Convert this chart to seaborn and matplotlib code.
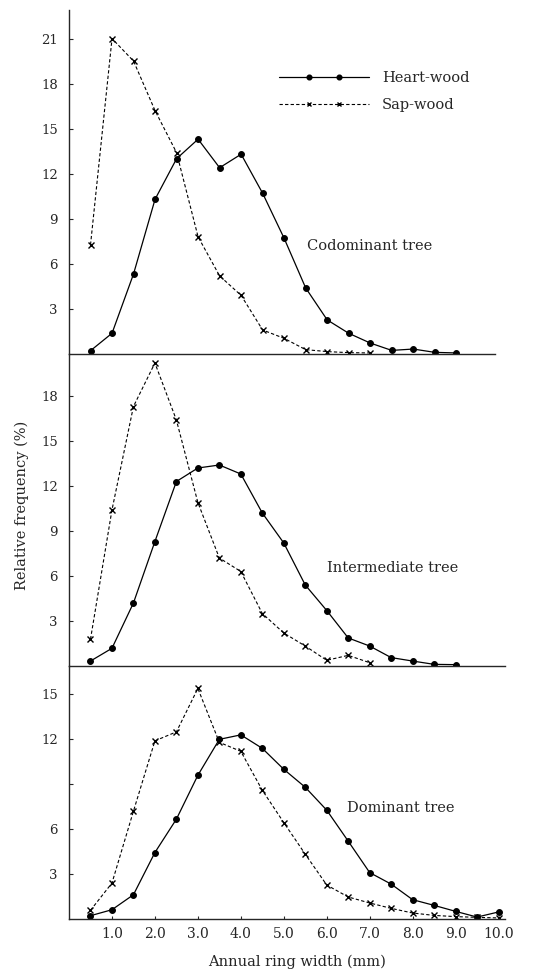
import numpy as np
import pandas as pd
import matplotlib
matplotlib.use("Agg")
import matplotlib.pyplot as plt
from matplotlib.legend_handler import HandlerLine2D, HandlerTuple
from matplotlib.lines import Line2D
import seaborn as sns

sns.set_style("ticks")
plt.rcParams['font.family'] = ['DejaVu Serif', 'Liberation Serif']

# ---- data ----
width_codom = [0.5, 1.0, 1.5, 2.0, 2.5, 3.0, 3.5, 4.0, 4.5, 5.0, 5.5, 6.0, 6.5, 7.0, 7.5, 8.0, 8.5, 9.0]
heart_codom = [0.22, 1.38, 5.33, 10.3, 13.0, 14.3, 12.4, 13.3, 10.7, 7.7, 4.4, 2.27, 1.38, 0.73, 0.24, 0.33, 0.11, 0.07]
sap_width_codom = [0.5, 1.0, 1.5, 2.0, 2.5, 3.0, 3.5, 4.0, 4.5, 5.0, 5.5, 6.0, 6.5, 7.0]
sap_codom = [7.27, 21.0, 19.5, 16.2, 13.4, 7.8, 5.2, 3.9, 1.6, 1.04, 0.29, 0.16, 0.09, 0.07]

width_inter = [0.5, 1.0, 1.5, 2.0, 2.5, 3.0, 3.5, 4.0, 4.5, 5.0, 5.5, 6.0, 6.5, 7.0, 7.5, 8.0, 8.5, 9.0]
heart_inter = [0.33, 1.18, 4.2, 8.3, 12.3, 13.2, 13.4, 12.8, 10.2, 8.2, 5.4, 3.7, 1.87, 1.33, 0.56, 0.33, 0.11, 0.09]
sap_width_inter = [0.5, 1.0, 1.5, 2.0, 2.5, 3.0, 3.5, 4.0, 4.5, 5.0, 5.5, 6.0, 6.5, 7.0]
sap_inter = [1.78, 10.4, 17.3, 20.2, 16.4, 10.9, 7.2, 6.3, 3.5, 2.2, 1.33, 0.38, 0.71, 0.22]

width_dom = [0.5, 1.0, 1.5, 2.0, 2.5, 3.0, 3.5, 4.0, 4.5, 5.0, 5.5, 6.0, 6.5, 7.0, 7.5, 8.0, 8.5, 9.0, 9.5, 10.0]
heart_dom = [0.22, 0.62, 1.62, 4.44, 6.67, 9.6, 12.0, 12.3, 11.4, 10.0, 8.8, 7.27, 5.2, 3.1, 2.33, 1.29, 0.91, 0.51, 0.13, 0.47]
sap_dom = [0.58, 2.4, 7.2, 11.9, 12.5, 15.4, 11.8, 11.2, 8.6, 6.44, 4.33, 2.27, 1.47, 1.07, 0.71, 0.4, 0.24, 0.16, 0.11, 0.07]

panel_labels = ["Codominant tree", "Intermediate tree", "Dominant tree"]
legend_labels = ["Heart-wood", "Sap-wood"]
x_ticks = [1.0, 2.0, 3.0, 4.0, 5.0, 6.0, 7.0, 8.0, 9.0, 10.0]
x_ticklabels = ["1.0", "2.0", "3.0", "4.0", "5.0", "6.0", "7.0", "8.0", "9.0", "10.0"]

fig = plt.figure(figsize=(5.45, 9.74), dpi=100)
W, H = 545, 974

def make_ax(top_px, bot_px, left_px=69, right_px=505):
    return fig.add_axes([left_px / W, 1 - bot_px / H, (right_px - left_px) / W, (bot_px - top_px) / H])

ax1 = make_ax(10, 354, right_px=495)
ax2 = make_ax(354, 666)
ax3 = make_ax(666, 919)

panels = [
    (ax1, width_codom, heart_codom, sap_width_codom, sap_codom, (0, 22.9), [3, 6, 9, 12, 15, 18, 21], ["3", "6", "9", "12", "15", "18", "21"], (5.52, 7.2), 9.9),
    (ax2, width_inter, heart_inter, sap_width_inter, sap_inter, (0, 20.8), [3, 6, 9, 12, 15, 18], ["3", "6", "9", "12", "15", "18"], (6.0, 6.5), 10.15),
    (ax3, width_dom, heart_dom, width_dom, sap_dom, (0, 16.9), [3, 6, 9, 12, 15], ["3", "6", "", "12", "15"], (6.48, 7.4), 10.15),
]

heart_kw = dict(color="black", linewidth=0.9)
heart_mk = dict(marker="o", markersize=4.2, markeredgecolor="black", markerfacecolor="black")
sap_kw = dict(color="black", linewidth=0.8, linestyle=(0, (3, 2)))
sap_mk = dict(marker="x", markersize=4, markeredgewidth=1.0, markeredgecolor="black")

for i, (ax, xh, yh, xs, ys, ylim, yt, ytl, lab_pos, xmax) in enumerate(panels):
    sns.lineplot(x=xh, y=yh, ax=ax, **heart_kw, **heart_mk)
    sns.lineplot(x=xs, y=ys, ax=ax, **sap_kw, **sap_mk)
    ax.set_xlim(0, xmax)
    ax.set_ylim(*ylim)
    ax.set_yticks(yt)
    ax.set_yticklabels(ytl, fontsize=9.5)
    ax.tick_params(axis="y", direction="in", length=3, width=0.8, pad=8)
    for s in ["top", "right"]:
        ax.spines[s].set_visible(False)
    ax.spines["left"].set_linewidth(1.0)
    ax.spines["bottom"].set_linewidth(1.0)
    ax.set_xlabel("")
    ax.set_ylabel("")
    ax.text(lab_pos[0], lab_pos[1], panel_labels[i], fontsize=10.5, ha="left", va="center")
    if i < 2:
        ax.set_xticks([])
    else:
        ax.set_xticks(x_ticks)
        ax.set_xticklabels(x_ticklabels, fontsize=10)
        ax.tick_params(axis="x", direction="in", length=2, width=0.8, pad=6)
    ax.patch.set_alpha(0)

# legend: full-length line with two inset markers
fs_leg = 10.5
fs_px = fs_leg * 100 / 72
h_line = Line2D([], [], **heart_kw)
h_mark = Line2D([], [], linestyle="none", **heart_mk)
s_line = Line2D([], [], **sap_kw)
s_mark = Line2D([], [], linestyle="none", **sap_mk)
mk_handler = HandlerLine2D(numpoints=2, marker_pad=30 / fs_px)
ax1.legend([(h_line, h_mark), (s_line, s_mark)], legend_labels,
           loc="upper left", bbox_to_anchor=((279 - 69) / (495 - 69), (354 - 71) / 344),
           frameon=False, fontsize=fs_leg, borderaxespad=0, borderpad=0,
           handlelength=90 / fs_px, handletextpad=13 / fs_px, labelspacing=0.9,
           markerscale=0.8,
           handler_map={tuple: HandlerTuple(ndivide=1, pad=0),
                        h_mark: mk_handler, s_mark: mk_handler})

fig.text(22 / W, 1 - 505 / H, "Relative frequency (%)", rotation=90, ha="center", va="center", fontsize=10.5)
fig.text(297 / W, 1 - 962 / H, "Annual ring width (mm)", ha="center", va="center", fontsize=10.5)

fig.savefig("out.png", dpi=100, facecolor="white")
